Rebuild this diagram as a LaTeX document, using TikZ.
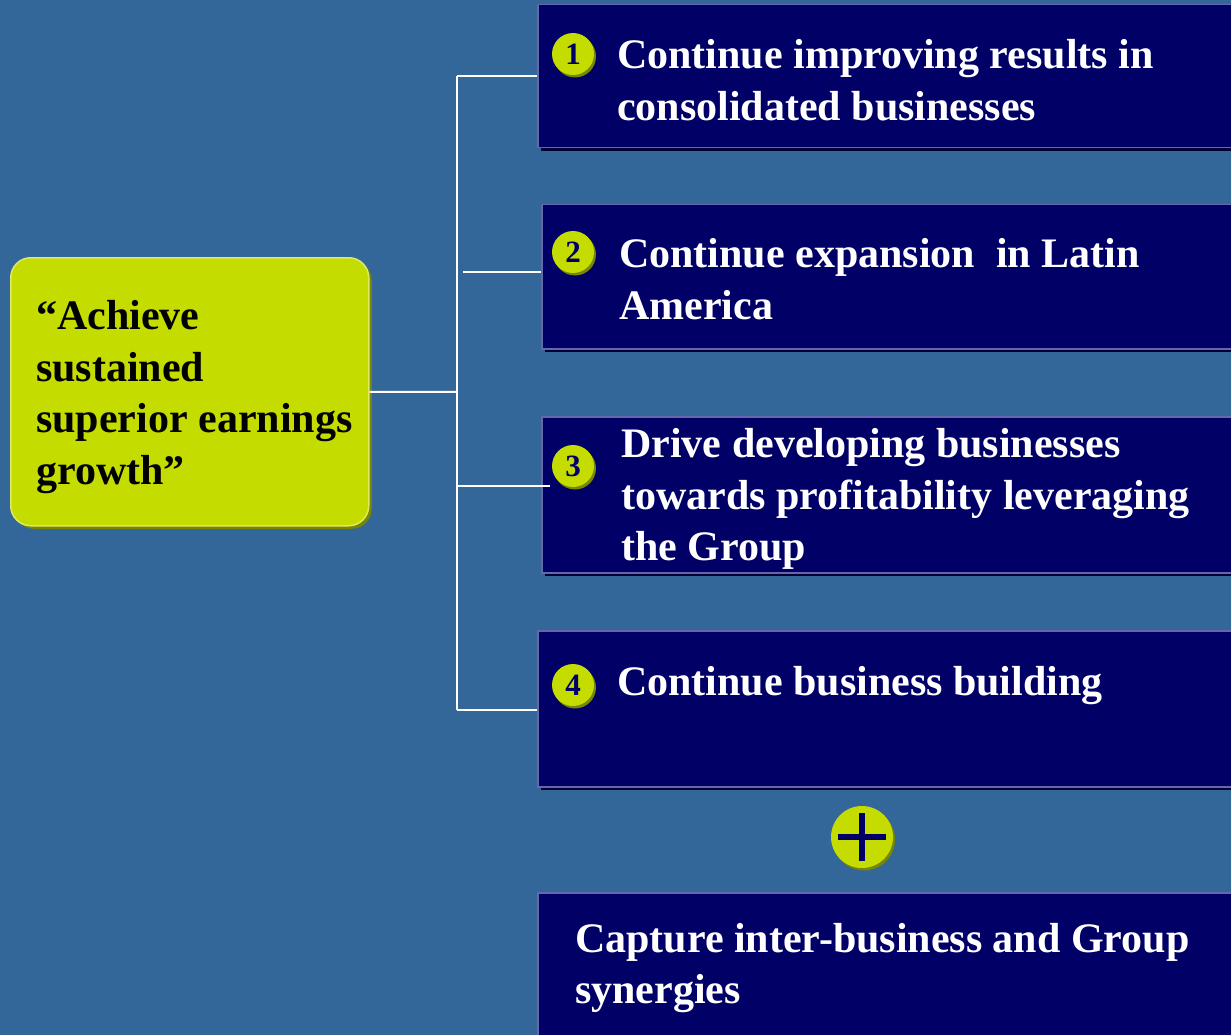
\documentclass[tikz,border=0pt]{standalone}
\usepackage{fontspec}
\setmainfont{Liberation Serif}
\usetikzlibrary{positioning,shadows}

\definecolor{bgblue}{RGB}{51,102,153}
\definecolor{navy}{RGB}{0,0,102}
\definecolor{shadenavy}{RGB}{0,0,55}
\definecolor{edgeblue}{RGB}{102,102,170}
\definecolor{lime}{RGB}{196,220,0}
\definecolor{limeshade}{RGB}{120,135,0}

\begin{document}
\begin{tikzpicture}[x=1pt,y=-1pt,
    itembox/.style={draw=edgeblue, line width=1.5pt, fill=navy, anchor=north west,
        minimum width=720pt, inner sep=0pt,
        drop shadow={shadow xshift=3pt, shadow yshift=-3pt, fill=shadenavy, opacity=1}},
    itemtext/.style={anchor=west, align=left, text=white, inner sep=0pt,
        font=\bfseries\fontsize{42}{51.5}\selectfont},
    numdot/.style={circle, fill=lime, text=navy, minimum size=42pt, inner sep=0pt,
        font=\bfseries\fontsize{31}{31}\selectfont,
        drop shadow={shadow xshift=2pt, shadow yshift=-2.5pt, fill=limeshade, opacity=1}},
    link/.style={draw=white, line width=2pt}]

    % Background and size of the page
    \fill[bgblue] (0,0) rectangle (1231,1035);
    \useasboundingbox (0,0) rectangle (1231,1035);

    % The goal on the left
    \node[draw=lime!60!white, line width=1.5pt, fill=lime, rounded corners=20pt,
        anchor=north west, minimum width=358pt, minimum height=268pt,
        drop shadow={shadow xshift=3pt, shadow yshift=-3pt, fill=limeshade, opacity=1}]
        (goal) at (10,257) {};
    \node[itemtext, text=black] (goaltext) at (36,397)
        {“Achieve\\sustained\\superior earnings\\growth”};

    % The four strategic lines and the synergies box
    \node[itembox, minimum height=143pt] (b1) at (537,4) {};
    \node[itembox, minimum height=144pt] (b2) at (541,204) {};
    \node[itembox, minimum height=156pt] (b3) at (541,416) {};
    \node[itembox, minimum height=156pt] (b4) at (537,630) {};
    \node[itembox, minimum height=160pt] (b5) at (537,892) {};

    \node[itemtext] (t1) at (617,80) {Continue improving results in\\consolidated businesses};
    \node[itemtext] (t2) at (619,279) {Continue expansion\ \ in Latin\\America};
    \node[itemtext] (t3) at (621,499) {Drive developing businesses\\towards profitability leveraging\\the Group};
    \node[itemtext] (t4) at (617,686) {Continue business building};
    \node[itemtext] (t5) at (575,968) {Capture inter-business and Group\\synergies};

    % Numbers
    \node[numdot] (n1) at (573,54) {1};
    \node[numdot] (n2) at (573,252) {2};
    \node[numdot] (n3) at (573,466) {3};
    \node[numdot] (n4) at (573,685) {4};

    % The plus sign
    \node[numdot, minimum size=62pt] (plus) at (862,837) {};
    \draw[navy, line width=6pt] ([xshift=-24pt]plus.center) -- ([xshift=24pt]plus.center);
    \draw[navy, line width=6pt] ([yshift=-24pt]plus.center) -- ([yshift=24pt]plus.center);

    % Tree of connectors
    \coordinate (j0) at (457,392);
    \coordinate (j1) at (457,76);
    \coordinate (j4) at (457,710);
    \draw[link] (goal.east) -- (j0);
    \draw[link] (j1) -- (j4);
    \draw[link] (j1) -- (j1 -| b1.west);
    \draw[link] ([xshift=6pt]j0 |- 0,272) -- (b2.west |- 0,272);
    \draw[link] (j0 |- 0,486) -- ([xshift=9pt]b3.west |- 0,486);
    \draw[link] (j4) -- (j4 -| b4.west);
\end{tikzpicture}
\end{document}
